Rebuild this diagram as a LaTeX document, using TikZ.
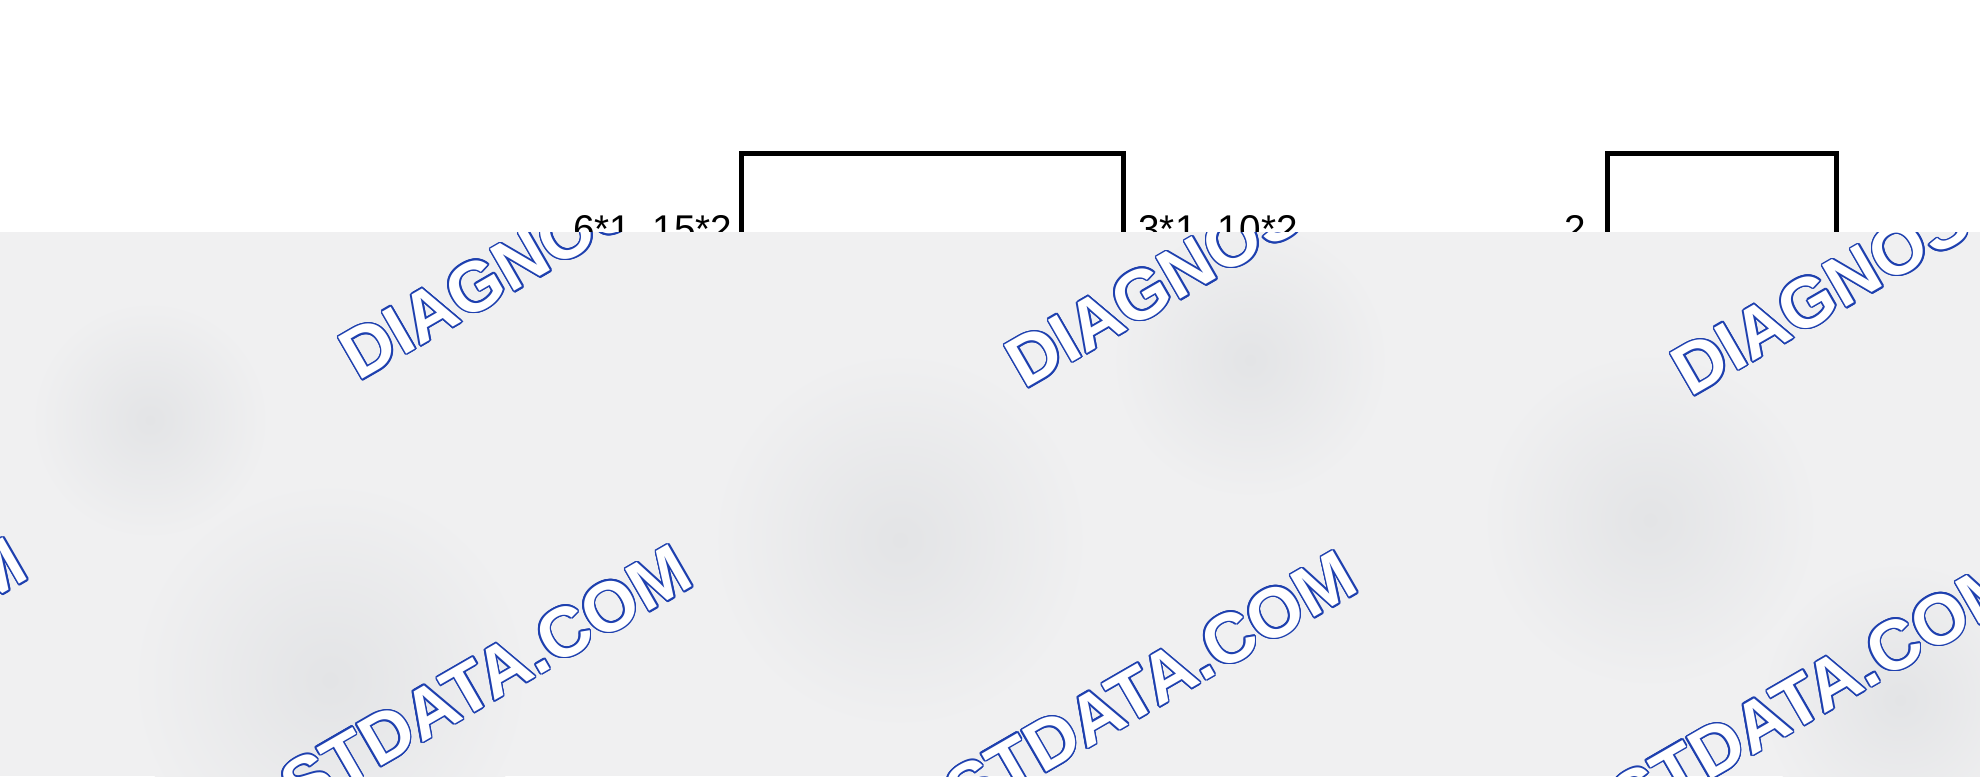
\documentclass[tikz,border=0pt]{standalone}
\usepackage{fontspec}
\setmainfont{Liberation Sans}
\usepackage{contour}
\contourlength{0.45pt}
\usetikzlibrary{positioning}

\definecolor{wmblue}{RGB}{30,64,175}
\definecolor{veil}{RGB}{240,240,241}
\definecolor{veildark}{RGB}{227,228,230}

\begin{document}
\begin{tikzpicture}[x=0.01cm, y=-0.01cm,
    box/.style={draw, line width=1.28pt, minimum height=6cm, inner sep=0pt, anchor=north west},
    lbl/.style={inner sep=0pt, font=\fontsize{11}{13}\selectfont},
    blot/.style={inner color=veildark, outer color=veil},
    wmark/.style={rotate=30, inner sep=0pt, text=white, font=\fontsize{20}{22}\selectfont\bfseries}]
    \useasboundingbox (0,0) rectangle (1980,776);

    \node[box, minimum width=3.82cm] (boxA) at (739,151) {};
    \node[box, minimum width=2.29cm] (boxB) at (1605,151) {};

    \node[lbl, anchor=base east] (lblA) at ([xshift=-0.06cm, yshift=-0.91cm] boxA.north west) {6*1, 15*2};
    \node[lbl, anchor=base west] (lblB) at ([xshift=0.12cm, yshift=-0.91cm] boxA.north east) {3*1, 10*2};
    \node[lbl, anchor=base east] (lblC) at ([xshift=-0.18cm, yshift=-0.91cm] boxB.north west) {2};

    % grey veil with the watermark
    \begin{scope}
        \clip (0,232) rectangle (1980,776);
        \fill[veil] (0,232) rectangle (1980,776);
        \foreach \x/\y/\r in {330/680/200, 900/540/190, 1650/520/170, 1250/360/140, 150/420/120, 1900/700/140}
            \shade[blot] (\x,\y) circle[radius=\r];
        \foreach \x/\y [count=\i] in {358/382, 1024/390, 1690/398}
            \node[wmark, anchor=base west] (wmA\i) at (\x,\y) {\contour{wmblue}{DIAGNOSTDATA.COM}};
        \foreach \x/\y [count=\i] in {32/577, 697/584, 1362/590, 2027/597}
            \node[wmark, anchor=base east] (wmB\i) at (\x,\y) {\contour{wmblue}{DIAGNOSTDATA.COM}};
    \end{scope}
\end{tikzpicture}
\end{document}
